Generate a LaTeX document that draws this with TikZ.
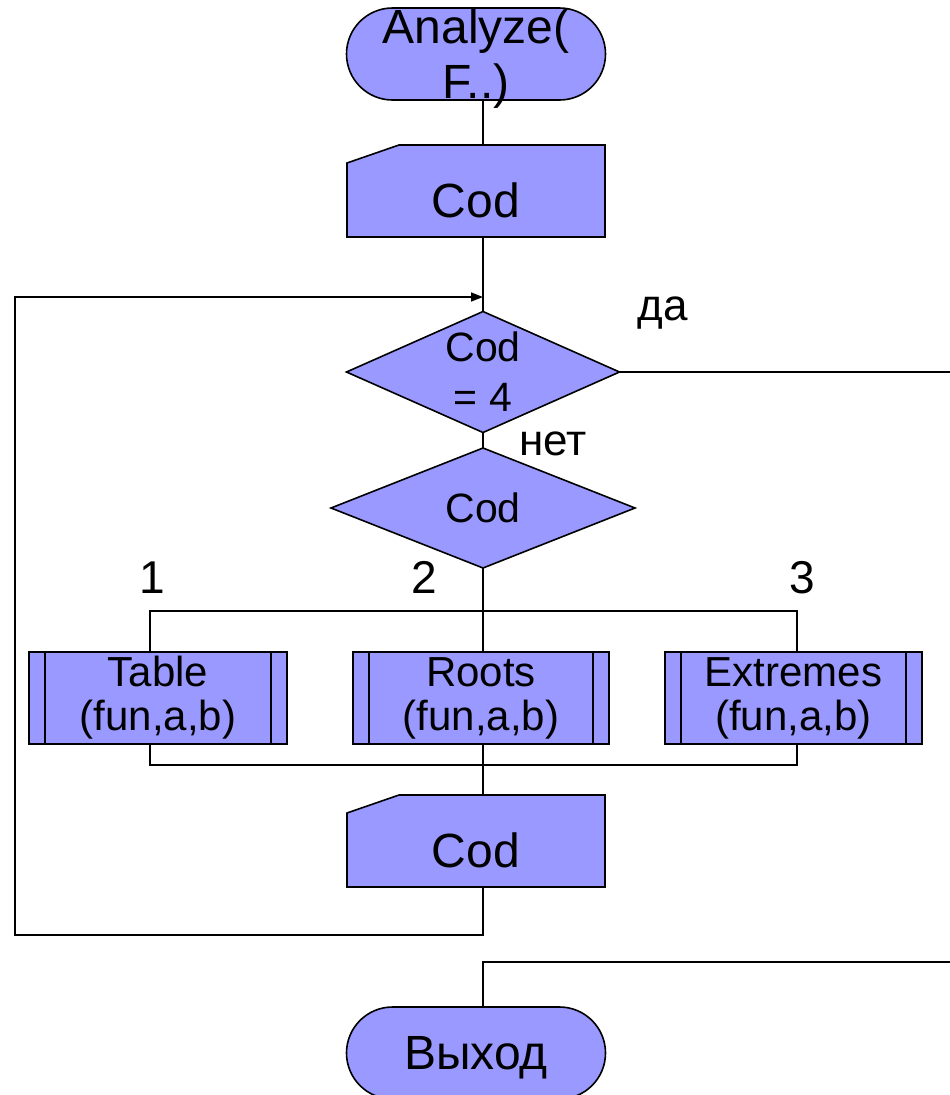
\documentclass[tikz,border=0pt]{standalone}
\usepackage{fontspec}
\setmainfont{Liberation Sans}
\usetikzlibrary{shapes.misc,arrows.meta,backgrounds}
\definecolor{boxblue}{RGB}{153,153,255}
\newcommand\liftbox[2]{\makebox[0pt]{\raisebox{#1}[0pt][0pt]{#2}}}
\begin{document}
\begin{tikzpicture}[x=1pt,y=-1pt,
  line width=1.6pt,
  every node/.style={inner sep=0pt, outer sep=0pt},
  term/.style={rounded rectangle, draw, fill=boxblue, minimum width=259pt, minimum height=92pt, font=\fontsize{48}{55}\selectfont},
  iobox/.style={rectangle, minimum width=258pt, minimum height=92pt, font=\fontsize{48}{55}\selectfont, text height=52pt, text depth=0pt},
  decbox/.style={rectangle, align=center, font=\fontsize{41}{50}\selectfont},
  subbox/.style={rectangle, draw, fill=boxblue, minimum width=258pt, minimum height=92pt, align=center, font=\fontsize{42}{44}\selectfont},
  lab/.style={anchor=base, font=\fontsize{44}{50}\selectfont},
  arr/.style={-{Triangle[length=12pt,width=9pt]}},
  shapeln/.style={draw, fill=boxblue, line width=1.6pt}
]
\useasboundingbox (0,0) rectangle (950,1095);

% column of the main flow
\coordinate (col) at (483,0);

% nodes
\node[term] (start) at (476,54) {\liftbox{11pt}{\begin{tabular}[t]{@{}c@{}}Analyze(\\F..)\end{tabular}}};
\node[iobox] (in1) at (476,191) {Cod};
\node[decbox, minimum width=273pt, minimum height=121pt] (d1) at (483,372) {Cod\\= 4};
\node[decbox, minimum width=304pt, minimum height=120pt] (d2) at (483,508) {Cod};
\node[subbox] (s1) at (158,698) {Table\\(fun,a,b)};
\node[subbox, minimum width=256pt] (s2) at (481,698) {Roots\\(fun,a,b)};
\node[subbox, minimum width=257pt] (s3) at (793.5,698) {Extremes\\(fun,a,b)};
\node[iobox] (out2) at (476,841) {Cod};
\node[term, text depth=0pt] (fin) at (476,1053) {Выход};

% labels
\node[lab] (yes) at (663,320) {да};
\node[lab] (no) at (553,455) {нет};
\node[lab, font=\fontsize{46}{50}\selectfont] (c1) at (152,593) {1};
\node[lab, font=\fontsize{46}{50}\selectfont] (c2) at (424,593) {2};
\node[lab, font=\fontsize{46}{50}\selectfont] (c3) at (802,593) {3};

% shapes drawn behind the texts
\begin{scope}[on background layer]
  \path[shapeln] (d1.north) -- (d1.east) -- (d1.south) -- (d1.west) -- cycle;
  \path[shapeln] (d2.north) -- (d2.east) -- (d2.south) -- (d2.west) -- cycle;
  \foreach \n in {in1,out2}{
    \path[shapeln] (\n.south west) -- (\n.south east) -- (\n.north east)
      -- ([xshift=52pt]\n.north west) -- ([yshift=-18pt]\n.north west) -- cycle;
  }
\end{scope}
\foreach \n in {s1,s2,s3}{
  \draw ([xshift=16pt]\n.north west) -- ([xshift=16pt]\n.south west);
  \draw ([xshift=-16pt]\n.north east) -- ([xshift=-16pt]\n.south east);
}

% coordinates for connector bends
\coordinate (merge) at (483,297);
\coordinate (lb) at (15,935);
\coordinate (yesR) at (952,372);
\coordinate (exitR) at (952,962);
\coordinate (b1) at (150,611);
\coordinate (b3) at (797,611);
\coordinate (m1) at (150,765);
\coordinate (m3) at (797,765);

% connectors
\draw (start.south -| col) -- (in1.north -| col);
\draw (in1.south -| col) -- (d1.north);
\draw (d1.south) -- (d2.north);
\draw (d2.south) -- (s2.north -| d2.south);
\draw (s1.north -| b1) -- (b1) -- (b3) -- (s3.north -| b3);
\draw (s1.south -| m1) -- (m1) -- (m3) -- (s3.south -| m3);
\draw (s2.south -| col) -- (out2.north -| col);
\draw[arr] (out2.south -| col) |- (lb) |- (merge);
\draw (d1.east) -- (yesR) -- (exitR) -| (fin.north -| col);
\end{tikzpicture}
\end{document}
